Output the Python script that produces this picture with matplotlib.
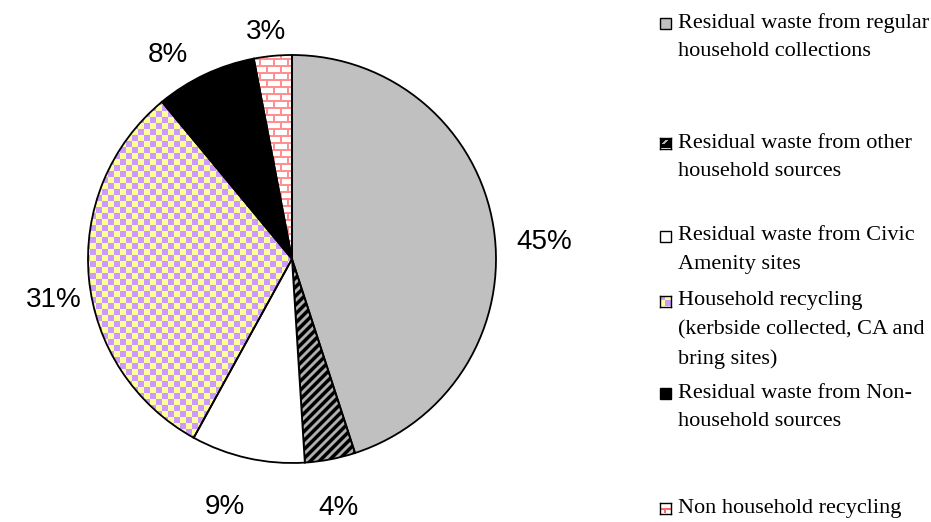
import numpy as np
import matplotlib.pyplot as plt
from matplotlib.patches import Rectangle

# Share of waste by source (%)
shares = [45, 4, 9, 31, 8, 3]
legend_labels = [
    "Residual waste from regular\nhousehold collections",
    "Residual waste from other\nhousehold sources",
    "Residual waste from Civic\nAmenity sites",
    "Household recycling\n(kerbside collected, CA and\nbring sites)",
    "Residual waste from Non-\nhousehold sources",
    "Non household recycling",
]
pct_labels = ["45%", "4%", "9%", "31%", "8%", "3%"]

W, H = 931, 522
fig = plt.figure(figsize=(W / 100, H / 100), dpi=100)

# pie axes: centre at (292, 259) px, radius 204 px
cx, cy, r_px, half = 292, 259, 204, 250
ax = fig.add_axes([(cx - half) / W, (H - cy - half) / H, 2 * half / W, 2 * half / H])
lim = half / r_px

wedges, _ = ax.pie(shares, startangle=90, counterclock=False, radius=1,
                   colors=["#c0c0c0", "black", "white", "white", "black", "white"],
                   wedgeprops=dict(edgecolor="black", linewidth=1.3))
ax.set_xlim(-lim, lim)
ax.set_ylim(-lim, lim)
ax.set_aspect("equal")
ax.axis("off")

# pixel patterns used for fills
n = 2 * half
yy, xx = np.mgrid[0:n, 0:n]


def rgb(h):
    h = h.lstrip("#")
    return np.array([int(h[i:i + 2], 16) / 255 for i in (0, 2, 4)])


def checker(cell=6):
    img = np.empty((n, n, 3))
    mask = ((xx // cell) + (yy // cell)) % 2 == 0
    img[mask] = rgb("#cc99ff")
    img[~mask] = rgb("#ffff99")
    return img


def bricks(bw=14, bh=7):
    img = np.ones((n, n, 3))
    row = yy // bh
    mortar = (yy % bh < 2) | (((xx + (row % 2) * (bw // 2)) % bw) < 2)
    img[mortar] = rgb("#ff9090")
    return img


def stripes(step=9):
    img = np.zeros((n, n, 3))
    s = (xx + yy) % step
    img[(s >= 3) & (s < 6)] = rgb("#b0b0b0")
    img[(s == 2) | (s == 6)] = rgb("#585858")
    return img


patterns = {1: stripes(), 3: checker(), 5: bricks()}
for idx, img in patterns.items():
    im = ax.imshow(img, extent=(-lim, lim, -lim, lim), origin="upper",
                   interpolation="nearest", zorder=0.5)
    im.set_clip_path(wedges[idx])
    wedges[idx].set_facecolor("none")
for w in wedges:
    w.set_zorder(1)
ax.set_xlim(-lim, lim)
ax.set_ylim(-lim, lim)

# percentage labels just outside the pie, nudged in pixels
label_nudge = [(10, -21), (1, -9), (-14, -9), (5, -18), (-20, -18), (-3, -17)]
start = 90.0
for val, lab, off in zip(shares, pct_labels, label_nudge):
    mid = np.deg2rad(start - val * 3.6 / 2)
    start -= val * 3.6
    ax.annotate(lab, (1.2 * np.cos(mid), 1.2 * np.sin(mid)), xytext=off,
                textcoords="offset pixels", ha="center", va="center",
                annotation_clip=False, fontsize=20, family="Liberation Sans")

# legend, drawn in figure pixels
entry_y = [23, 143, 236, 301, 393, 508]
box_fill = ["#c0c0c0", None, "white", None, "black", None]
line_h = 29
sw = 11
bx0 = 660
for i, (lab, y0) in enumerate(zip(legend_labels, entry_y)):
    rect = [bx0 / W, (H - y0 - sw / 2) / H, sw / W, sw / H]
    if i in patterns:
        bx = fig.add_axes(rect)
        if i == 1:
            small = np.zeros((sw, sw, 3))
            for k in range(sw):
                small[sw - 1 - k, max(0, k - 2):k + 1] = rgb("#b0b0b0") if 3 < k < 8 else 0
        elif i == 3:
            small = np.array([[rgb("#cc99ff"), rgb("#ffff99")],
                              [rgb("#ffff99"), rgb("#cc99ff")]])
        else:
            small = np.ones((sw, sw, 3))
            small[6:8, :] = rgb("#ff6666")
            small[8:, 4:6] = rgb("#ff6666")
        bx.imshow(small, interpolation="nearest", aspect="auto")
        bx.set_xticks([])
        bx.set_yticks([])
        for sp in bx.spines.values():
            sp.set_linewidth(1)
    else:
        fig.add_artist(Rectangle((rect[0], rect[1]), rect[2], rect[3],
                                 transform=fig.transFigure, facecolor=box_fill[i],
                                 edgecolor="black", linewidth=1))
    for k, line in enumerate(lab.split("\n")):
        fig.text(678 / W, (H - y0 - k * line_h) / H, line, ha="left", va="center",
                 fontsize=16, family="Liberation Serif")

fig.savefig("out.png", dpi=100)
